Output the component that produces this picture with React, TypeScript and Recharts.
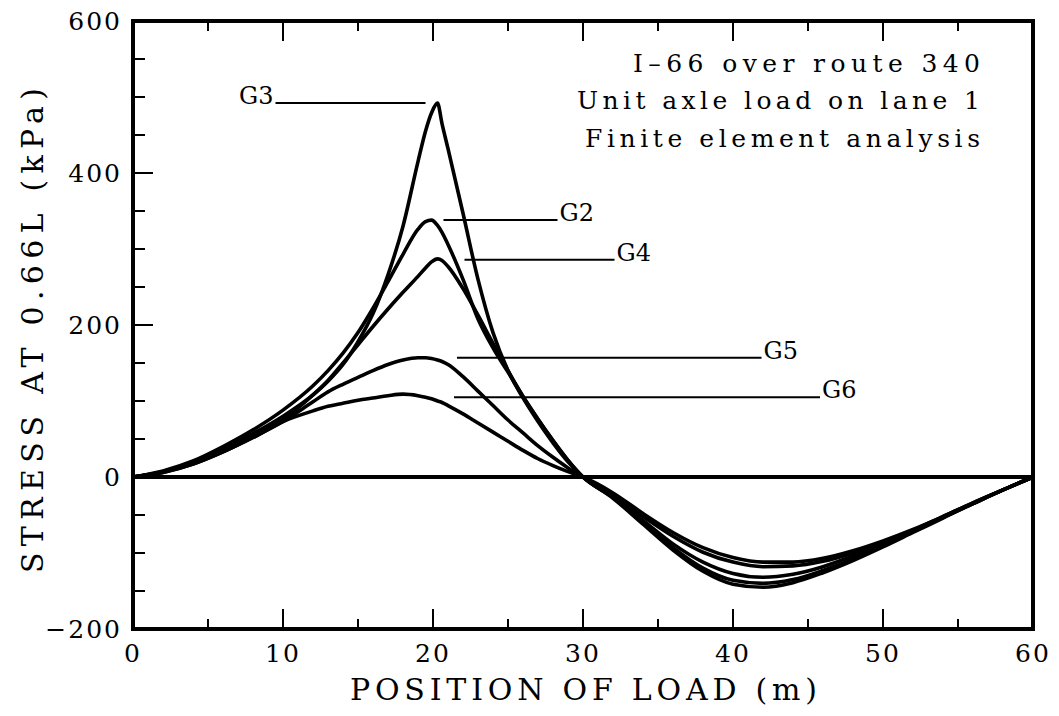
import { LineChart, Line, XAxis, YAxis, ReferenceLine } from "recharts";

// position of the axle along the bridge (m)
const positions = [
  0, 2, 4, 6, 8, 10, 12, 13, 14, 15, 16, 17, 18, 19, 19.5, 19.9, 20.3, 20.6, 21, 22, 23, 24, 25, 26,
  27, 28, 29, 30, 32, 34, 36, 38, 40, 42, 44, 46, 48, 50, 52, 54, 56, 58, 60,
];

// stress at 0.66L (kPa), one list per girder
const g3 = [
  0, 7, 19, 37, 57, 80, 108, 126, 148, 178, 215, 266, 330, 415, 455, 479, 492, 465, 432, 347, 260,
  190, 140, 104, 73, 45, 20, 0, -28, -62, -96, -124, -141, -145, -139, -126, -110, -92, -73, -54,
  -35, -17, 0,
];
const g2 = [
  0, 8, 21, 40, 62, 88, 120, 140, 163, 190, 222, 257, 293, 326, 336, 338, 331, 322, 306, 260, 208,
  170, 138, 106, 76, 48, 22, 0, -27, -60, -93, -120, -136, -140, -135, -123, -108, -90, -72, -53,
  -35, -17, 0,
];
const g4 = [
  0, 7, 18, 35, 54, 76, 108, 127, 150, 174, 198, 221, 243, 264, 275, 283, 287, 285, 277, 248, 213,
  176, 140, 106, 76, 48, 22, 0, -26, -57, -88, -112, -127, -132, -128, -118, -104, -88, -71, -53,
  -35, -17, 0,
];
const g5 = [
  0, 6, 17, 33, 52, 73, 99, 112, 122, 131, 140, 148, 154, 157, 157, 156, 154, 152, 148, 132, 113,
  94, 75, 58, 41, 26, 12, 0, -24, -52, -78, -99, -112, -118, -117, -111, -100, -86, -70, -52, -34,
  -17, 0,
];
const g6 = [
  0, 6, 17, 33, 52, 73, 87, 93, 97, 101, 104, 107, 109, 107, 105, 103, 100, 98, 94, 83, 71, 59, 47,
  35, 24, 15, 7, 0, -21, -48, -73, -93, -106, -112, -112, -107, -97, -84, -69, -52, -34, -17, 0,
];

const xTicks = [0, 5, 10, 15, 20, 25, 30, 35, 40, 45, 50, 55, 60];
const yTicks = [-200, -150, -100, -50, 0, 50, 100, 150, 200, 250, 300, 350, 400, 450, 500, 550, 600];

// girder callouts: name, stress level of the leader, leader start / end (m)
const calloutNames = ["G3", "G2", "G4", "G5", "G6"];
const calloutLevels = [492, 338, 286, 157, 105];
const calloutFrom = [9.5, 20.7, 22.1, 21.6, 21.4];
const calloutTo = [19.5, 28.3, 32.1, 41.9, 45.8];

const noteLines = ["I\u201366 over route 340", "Unit axle load on lane 1", "Finite element analysis"];

const data = positions.map((x, i) => ({ x, g2: g2[i], g3: g3[i], g4: g4[i], g5: g5[i], g6: g6[i] }));

const FONT = "'DejaVu Serif', 'Liberation Serif', serif";
const INK = "#000";

function BottomTick({ x, y, payload }: any) {
  const v = payload.value;
  const major = v % 10 === 0;
  return (
    <g>
      <line x1={x} y1={y} x2={x} y2={y - (major ? 20 : 10)} stroke={INK} strokeWidth={2} />
      {major && (
        <text x={x} y={y + 33} textAnchor="middle" fontFamily={FONT} fontSize={25} letterSpacing={2} fill={INK}>
          {v}
        </text>
      )}
    </g>
  );
}

function TopTick({ x, y, payload }: any) {
  const major = payload.value % 10 === 0;
  return <line x1={x} y1={y} x2={x} y2={y + (major ? 20 : 10)} stroke={INK} strokeWidth={2} />;
}

function LeftTick({ x, y, payload }: any) {
  const v = payload.value;
  const major = v % 200 === 0;
  return (
    <g>
      <line x1={x} y1={y} x2={x + (major ? 20 : 12)} y2={y} stroke={INK} strokeWidth={2} />
      {major && (
        <text x={x - 11} y={y + 9} textAnchor="end" fontFamily={FONT} fontSize={25} letterSpacing={2} fill={INK}>
          {v < 0 ? `\u2212${-v}` : v}
        </text>
      )}
    </g>
  );
}

function RightTick({ x, y, payload }: any) {
  const major = payload.value % 200 === 0;
  return <line x1={x} y1={y} x2={x - (major ? 20 : 12)} y2={y} stroke={INK} strokeWidth={2} />;
}

const calloutLabel = (name: string, left: boolean) => (props: any) => {
  const vb = props.viewBox;
  return (
    <text
      x={left ? vb.x - 2 : vb.x + vb.width + 2}
      y={vb.y + 1}
      textAnchor={left ? "end" : "start"}
      fontFamily={FONT}
      fontSize={24}
      fill={INK}
    >
      {name}
    </text>
  );
};

const frame = { stroke: INK, strokeWidth: 4, strokeLinecap: "square" as const };

export default function App() {
  return (
    <LineChart width={1043} height={708} data={data} margin={{ top: 12, right: 17, bottom: 27, left: 25 }}>
      <XAxis
        dataKey="x"
        type="number"
        domain={[0, 60]}
        ticks={xTicks}
        interval={0}
        height={60}
        tickSize={0}
        tickMargin={0}
        tickLine={false}
        axisLine={frame}
        tick={<BottomTick />}
      />
      <XAxis
        xAxisId="top"
        orientation="top"
        dataKey="x"
        type="number"
        domain={[0, 60]}
        ticks={xTicks}
        interval={0}
        height={1}
        tickSize={0}
        tickMargin={0}
        tickLine={false}
        axisLine={frame}
        tick={<TopTick />}
      />
      <YAxis
        type="number"
        domain={[-200, 600]}
        ticks={yTicks}
        interval={0}
        width={100}
        tickSize={0}
        tickMargin={0}
        tickLine={false}
        axisLine={frame}
        tick={<LeftTick />}
      />
      <YAxis
        yAxisId="right"
        orientation="right"
        type="number"
        domain={[-200, 600]}
        ticks={yTicks}
        interval={0}
        width={1}
        tickSize={0}
        tickMargin={0}
        tickLine={false}
        axisLine={frame}
        tick={<RightTick />}
      />

      <ReferenceLine y={0} stroke={INK} strokeWidth={4} />
      {calloutNames.map((name, i) => (
        <ReferenceLine
          key={name}
          segment={[
            { x: calloutFrom[i], y: calloutLevels[i] },
            { x: calloutTo[i], y: calloutLevels[i] },
          ]}
          stroke={INK}
          strokeWidth={2}
          label={calloutLabel(name, i === 0)}
        />
      ))}

      {["g2", "g3", "g4", "g5", "g6"].map((k) => (
        <Line
          key={k}
          dataKey={k}
          type="monotone"
          stroke={INK}
          strokeWidth={3.6}
          dot={false}
          activeDot={false}
          isAnimationActive={false}
        />
      ))}

      <text x={625} y={64} textLength={347} fontFamily={FONT} fontSize={25} fill={INK}>
        {noteLines[0]}
      </text>
      <text x={569} y={101} textLength={403} fontFamily={FONT} fontSize={25} fill={INK}>
        {noteLines[1]}
      </text>
      <text x={577} y={139} textLength={395} fontFamily={FONT} fontSize={25} fill={INK}>
        {noteLines[2]}
      </text>

      <text x={342} y={692} textLength={467} fontFamily={FONT} fontSize={30} fill={INK}>
        POSITION OF LOAD (m)
      </text>
      <text
        x={0}
        y={0}
        textLength={485}
        fontFamily={FONT}
        fontSize={30}
        fill={INK}
        transform="translate(35 565) rotate(-90)"
      >
        STRESS AT 0.66L (kPa)
      </text>
    </LineChart>
  );
}
